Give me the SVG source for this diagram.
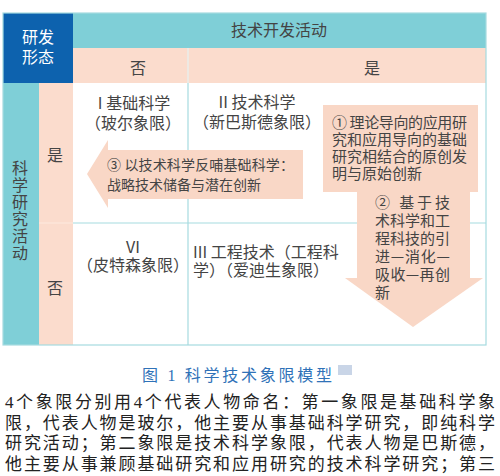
<svg xmlns="http://www.w3.org/2000/svg" width="500" height="476" viewBox="0 0 500 476">
<style>
.t{font-family:"Noto Sans CJK SC","Noto Sans",sans-serif;fill:#444;}
.f16{font-size:16px;}
.f15{font-size:15px;}
.f14{font-size:14px;}
.c{text-anchor:middle;}
.w{fill:#ffffff;}
.pk{fill:#f9d7c6;}
.grid{stroke:#a6dbe0;stroke-width:1.2;fill:none;}
.serif{font-family:"Liberation Serif","Noto Sans CJK SC",serif;}
.vert{writing-mode:vertical-rl;letter-spacing:1px;}
</style>
<rect width="500" height="476" fill="#ffffff"/>
<g id="table">
  <rect x="73" y="83" width="413" height="262" fill="#ffffff"/>
  <rect x="3" y="13" width="70" height="70" fill="#0d62ae"/>
  <rect x="73" y="13" width="413" height="35" fill="#7fcfd7"/>
  <rect x="73" y="48" width="413" height="35" fill="#fbdccd"/>
  <rect x="3" y="83" width="36" height="262" fill="#7fcfd7"/>
  <rect x="39" y="83" width="34" height="262" fill="#fbdccd"/>
  <line x1="188" y1="48" x2="188" y2="83" stroke="#e6f2f2" stroke-width="1.2"/>
  <line class="grid" x1="188" y1="83" x2="188" y2="345"/>
  <line class="grid" x1="73" y1="223" x2="486" y2="223"/>
  <line x1="39" y1="223" x2="73" y2="223" stroke="#fde9df" stroke-width="1.2"/>
  <rect class="grid" x="3" y="13" width="483" height="332"/>
</g>
<g id="header-texts">
  <text class="t f16 c w" x="38" y="43">研发</text>
  <text class="t f16 c w" x="38" y="63">形态</text>
  <text class="t f16 c" x="279" y="36">技术开发活动</text>
  <text class="t f16 c" x="138" y="74">否</text>
  <text class="t f16 c" x="372" y="74">是</text>
  <text class="t f16 vert" x="20" y="160">科学研究活动</text>
  <text class="t f16 c" x="55" y="161">是</text>
  <text class="t f16 c" x="55" y="294">否</text>
</g>
<g id="quadrant-I">
  <text class="t f16 c" x="134" y="109">I  基础科学</text>
  <text class="t f16 c" x="133" y="129">（玻尔象限）</text>
</g>
<g id="quadrant-II">
  <text class="t f16 c" x="257" y="108">II  技术科学</text>
  <text class="t f16 c" x="257" y="128">（新巴斯德象限）</text>
</g>
<g id="quadrant-VI">
  <text class="t f16 c" x="133" y="253">VI</text>
  <text class="t f16 c" x="133" y="271">（皮特森象限）</text>
</g>
<g id="quadrant-III">
  <text class="t f16" x="193" y="258">III 工程技术（工程科</text>
  <text class="t f16" x="193" y="276">学）（爱迪生象限）</text>
</g>
<g id="connectors">
  <polygon class="pk" points="87,174 108,140 108,150 303,150 303,199 108,199 108,208"/>
  <rect class="pk" x="323" y="105" width="155" height="87"/>
  <polygon class="pk" points="357,191 470,191 470,278 483,278 413,327 345,278 357,278"/>
</g>
<g id="arrow-3-label">
  <text class="t f14" x="107" y="170" textLength="187" lengthAdjust="spacing">③ 以技术科学反哺基础科学：</text>
  <text class="t f14" x="107" y="190">战略技术储备与潜在创新</text>
</g>
<g id="box-1-label">
  <text class="t f15" x="332" y="128" textLength="135" lengthAdjust="spacing">① 理论导向的应用研</text>
  <text class="t f15" x="332" y="145" textLength="135" lengthAdjust="spacing">究和应用导向的基础</text>
  <text class="t f15" x="332" y="162" textLength="135" lengthAdjust="spacing">研究相结合的原创发</text>
  <text class="t f15" x="332" y="179">明与原始创新</text>
</g>
<g id="arrow-2-label">
  <text class="t f15" x="375" y="208" textLength="75" lengthAdjust="spacing">② 基于技</text>
  <text class="t f15" x="375" y="226" textLength="75" lengthAdjust="spacing">术科学和工</text>
  <text class="t f15" x="375" y="244" textLength="75" lengthAdjust="spacing">程科技的引</text>
  <text class="t f15" x="375" y="262" textLength="75" lengthAdjust="spacing">进—消化—</text>
  <text class="t f15" x="375" y="280" textLength="75" lengthAdjust="spacing">吸收—再创</text>
  <text class="t f15" x="375" y="298">新</text>
</g>
<g id="caption">
  <text class="serif" x="142" y="381" font-size="16" fill="#2f72b8" textLength="190" lengthAdjust="spacing">图 1  科学技术象限模型</text>
  <rect x="338" y="365" width="14" height="10" fill="#c9d5e7"/>
</g>
<g id="body-text" class="serif" font-size="17" fill="#222">
  <text x="5" y="408" textLength="490" lengthAdjust="spacing">4个象限分别用4个代表人物命名：第一象限是基础科学象</text>
  <text x="5" y="428.5" textLength="490" lengthAdjust="spacing">限，代表人物是玻尔，他主要从事基础科学研究，即纯科学</text>
  <text x="5" y="449" textLength="490" lengthAdjust="spacing">研究活动；第二象限是技术科学象限，代表人物是巴斯德，</text>
  <text x="5" y="469.5" textLength="490" lengthAdjust="spacing">他主要从事兼顾基础研究和应用研究的技术科学研究；第三</text>
</g>
</svg>
